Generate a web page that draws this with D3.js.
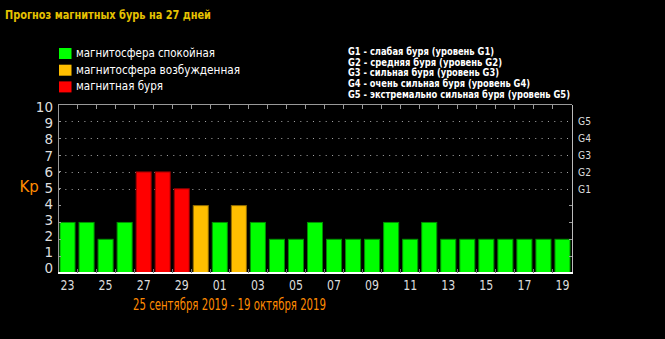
<!DOCTYPE html>
<html><head><meta charset="utf-8">
<script src="https://cdn.jsdelivr.net/npm/d3@7"></script>
<style>html,body{margin:0;padding:0;background:#000;overflow:hidden}</style>
</head><body>
<svg id="c" width="665" height="339"></svg>
<script>
const days = ["23","24","25","26","27","28","29","30","01","02","03","04","05","06","07","08","09","10","11","12","13","14","15","16","17","18","19"];
const kp =   [3,3,2,3,6,6,5,4,3,4,3,2,2,3,2,2,2,3,2,3,2,2,2,2,2,2,2];
const yTicks = [0,1,2,3,4,5,6,7,8,9,10];
const gLabels = ["G1","G2","G3","G4","G5"];
const gLevels = [5,6,7,8,9];
const legendLabels = ["магнитосфера спокойная","магнитосфера возбужденная","магнитная буря"];
const legendColors = ["#00ff00","#ffbf00","#ff0000"];
const gLegend = ["G1 - слабая буря (уровень G1)","G2 - средняя буря (уровень G2)","G3 - сильная буря (уровень G3)","G4 - очень сильная буря (уровень G4)","G5 - экстремально сильная буря (уровень G5)"];
const gLegendWidths = [146,154,151,182,222];
const title = "Прогноз магнитных бурь на 27 дней";
const subtitle = "25 сентября 2019 - 19 октября 2019";

function colorFor(v){ return v >= 5 ? legendColors[2] : (v === 4 ? legendColors[1] : legendColors[0]); }

const svg = d3.select("#c");
svg.append("rect").attr("width",665).attr("height",339).attr("fill","#000");

const L=58, R=572, T=104.5, B=273;
const x = d3.scaleBand().domain(days).range([L,R]).paddingInner(0.21).paddingOuter(0.105);
const y = d3.scaleLinear().domain([0,10]).range([B,T]);
const yLab = d3.scaleLinear().domain([0,10]).range([268,107.5]);
const step = x.step();

// title
svg.append("text").attr("x",5).attr("y",18.5).text(title)
  .attr("font-family","DejaVu Sans, sans-serif").attr("font-weight","bold").attr("font-size",12)
  .attr("fill","#e6c200").attr("textLength",206).attr("lengthAdjust","spacingAndGlyphs");

// legend left
const lg = svg.append("g");
legendLabels.forEach((t,i)=>{
  lg.append("rect").attr("x",59).attr("y",48+i*16.7).attr("width",12.5).attr("height",11).attr("fill",legendColors[i]);
  lg.append("text").attr("x",76).attr("y",57+i*16.7).text(t)
    .attr("font-family","DejaVu Sans, sans-serif").attr("font-size",12).attr("fill","#fff");
});
lg.selectAll("text").each(function(d,i){
  const w=[139,164,87][i];
  d3.select(this).attr("textLength",w).attr("lengthAdjust","spacingAndGlyphs");
});

// legend right
gLegend.forEach((t,i)=>{
  svg.append("text").attr("x",348).attr("y",55+i*10.7).text(t)
    .attr("font-family","DejaVu Sans, sans-serif").attr("font-weight","bold").attr("font-size",10)
    .attr("fill","#fff").attr("textLength",gLegendWidths[i]).attr("lengthAdjust","spacingAndGlyphs");
});

// grid dotted lines
svg.append("g").selectAll("line").data(gLevels).join("line")
  .attr("x1",L+1).attr("x2",R).attr("y1",d=>Math.round(y(d))+0.5).attr("y2",d=>Math.round(y(d))+0.5)
  .attr("stroke","#aaa").attr("stroke-width",1).attr("stroke-dasharray","1,5.35");

// bars
svg.append("g").selectAll("rect").data(days.map((d,i)=>({d,v:kp[i]}))).join("rect")
  .attr("x",d=>x(d.d)).attr("width",x.bandwidth())
  .attr("y",d=>y(d.v)).attr("height",d=>B-y(d.v))
  .attr("fill",d=>colorFor(d.v))
  .attr("stroke",d=>d3.color(colorFor(d.v)).darker(1.6)).attr("stroke-width",1);

// frame
const fr = svg.append("g").attr("shape-rendering","crispEdges");
fr.append("line").attr("x1",L).attr("x2",R).attr("y1",T).attr("y2",T).attr("stroke","#999");
fr.append("line").attr("x1",L).attr("x2",L).attr("y1",T).attr("y2",B).attr("stroke","#999");
fr.append("line").attr("x1",R).attr("x2",R).attr("y1",T).attr("y2",B).attr("stroke","#bbb");
fr.append("line").attr("x1",L).attr("x2",R+1).attr("y1",B).attr("y2",B).attr("stroke","#fff").attr("stroke-width",1.5);
// band ticks
const bounds = d3.range(1,days.length).map(k=>L+step*k);
fr.selectAll(".tt").data(bounds).join("line").attr("class","tt")
  .attr("x1",d=>d).attr("x2",d=>d).attr("y1",T).attr("y2",T+4).attr("stroke","#999");
fr.selectAll(".bt").data(bounds).join("line").attr("class","bt")
  .attr("x1",d=>d).attr("x2",d=>d).attr("y1",B-4).attr("y2",B).attr("stroke","#777");
// left/right ticks
fr.selectAll(".lt").data(yTicks.slice(1,10)).join("line").attr("class","lt")
  .attr("x1",L).attr("x2",L+3).attr("y1",d=>y(d)).attr("y2",d=>y(d)).attr("stroke","#999");
fr.selectAll(".rt").data([1,2,3,4]).join("line").attr("class","rt")
  .attr("x1",R-3).attr("x2",R).attr("y1",d=>y(d)).attr("y2",d=>y(d)).attr("stroke","#999");

// y labels
svg.append("g").selectAll("text").data(yTicks).join("text")
  .attr("x",53).attr("y",d=>yLab(d)).attr("dy","0.36em").attr("text-anchor","end")
  .attr("font-family","DejaVu Sans, sans-serif").attr("font-size",13.5).attr("fill","#ddd").text(d=>d);

// G labels
svg.append("g").selectAll("text").data(gLevels).join("text")
  .attr("x",578).attr("y",d=>y(d)).attr("dy","0.36em")
  .attr("font-family","DejaVu Sans, sans-serif").attr("font-size",11).attr("fill","#ddd")
  .attr("textLength",13).attr("lengthAdjust","spacingAndGlyphs")
  .text((d,i)=>gLabels[i]);

// Kp
svg.append("text").attr("x",19.5).attr("y",192).text("Kp")
  .attr("font-family","DejaVu Sans, sans-serif").attr("font-size",15).attr("fill","#ff8a00");

// x labels
svg.append("g").selectAll("text").data(days.filter((d,i)=>i%2===0)).join("text")
  .attr("x",d=>x(d)+x.bandwidth()/2).attr("y",289.5).attr("text-anchor","middle")
  .attr("font-family","DejaVu Sans, sans-serif").attr("font-size",13.5).attr("fill","#ddd")
  .attr("textLength",14).attr("lengthAdjust","spacingAndGlyphs").text(d=>d);

// subtitle
svg.append("text").attr("x",133).attr("y",310).text(subtitle)
  .attr("font-family","DejaVu Sans, sans-serif").attr("font-size",16).attr("fill","#ff8a00")
  .attr("textLength",193).attr("lengthAdjust","spacingAndGlyphs");
</script>
</body></html>
